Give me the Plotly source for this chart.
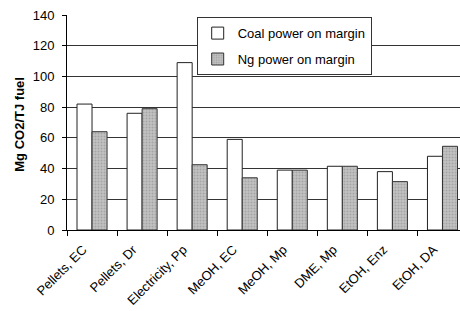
import plotly.graph_objects as go

categories = ["Pellets, EC", "Pellets, Dr", "Electricity, Pp", "MeOH, EC",
              "MeOH, Mp", "DME, Mp", "EtOH, Enz", "EtOH, DA"]
coal = [82, 76, 109, 59, 39, 41.5, 38, 48]
ng = [64, 79, 42.5, 34, 39, 41.5, 31.5, 54.5]
y_ticks = [0, 20, 40, 60, 80, 100, 120, 140]

font_family = "Liberation Sans, Arial, sans-serif"

fig = go.Figure()
fig.add_trace(go.Bar(
    x=categories, y=coal, name="Coal power on margin", legendgroup="a",
    marker=dict(color="white", line=dict(color="#222", width=1)),
))
fig.add_trace(go.Bar(
    x=categories, y=ng, name="Ng power on margin", legendgroup="b",
    marker=dict(color="#bdbdbd", line=dict(color="#333", width=1),
                pattern=dict(shape=".", fgcolor="#858585", bgcolor="#c2c2c2",
                             size=3, solidity=0.35)),
))

fig.update_layout(
    width=460, height=311,
    margin=dict(l=66.5, r=0, t=14.5, b=80.7),
    paper_bgcolor="white", plot_bgcolor="white",
    barmode="group", bargap=0.4, bargroupgap=0,
    font=dict(family=font_family, size=13, color="black"),
    showlegend=True,
    legend=dict(
        x=0.33, y=0.99, xanchor="left", yanchor="top",
        bgcolor="white", bordercolor="#333", borderwidth=1,
        font=dict(size=13, color="black"),
        tracegroupgap=6,
    ),
    annotations=[dict(
        text="<b>Mg CO2/TJ fuel</b>", textangle=-90,
        xref="paper", yref="paper", x=(19.5 - 66.5) / 393.5, y=0.49,
        xanchor="center", yanchor="middle", showarrow=False,
        font=dict(size=13, color="black"),
    )],
)
fig.update_xaxes(
    type="category", range=[-0.5, 7.35], automargin=False,
    tickson="boundaries", ticks="outside", ticklen=5, tickcolor="black",
    showline=True, linecolor="black", linewidth=1,
    showgrid=False, tickangle=-45, tickfont=dict(size=13),
    ticklabelshift=-9, ticklabelstandoff=6,
    fixedrange=True,
)
fig.update_yaxes(
    range=[0, 140], tickvals=y_ticks, ticks="outside", ticklen=4, tickcolor="black",
    automargin=False, ticklabelstandoff=5,
    showline=True, linecolor="black", linewidth=1,
    showgrid=True, gridcolor="#333", gridwidth=1,
    zeroline=False, tickfont=dict(size=13),
    fixedrange=True,
)

fig.write_html(
    "out.html",
    config={"displayModeBar": False},
    post_script="document.body.style.margin='0';document.body.style.overflow='hidden';",
)
